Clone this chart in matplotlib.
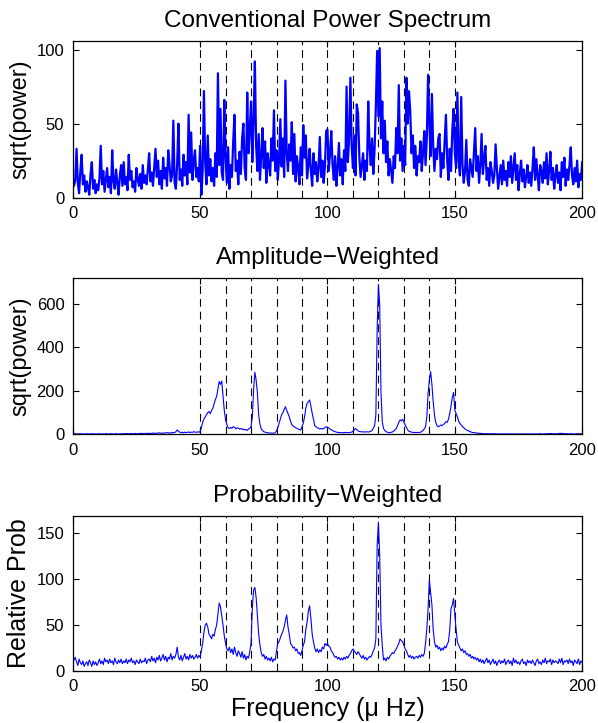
import numpy as np
import matplotlib
matplotlib.use("Agg")
import matplotlib.pyplot as plt

plt.rcParams['font.family'] = ['Liberation Sans', 'DejaVu Sans']

# frequency grid, 0.5 uHz steps
freq = np.arange(0, 200.5, 0.5)

# sqrt(power) of the conventional spectrum
conventional = [
    14, 8, 12, 33, 10, 3, 18, 29, 9, 15, 4, 11, 7, 2, 16, 24, 6, 12, 3, 9,
    5, 13, 35, 9, 18, 4, 12, 20, 7, 14, 3, 32, 11, 6, 19, 10, 2, 15, 22, 8,
    24, 9, 14, 5, 29, 12, 18, 7, 11, 4, 20, 13, 8, 16, 6, 22, 10, 15, 9, 19,
    30, 11, 17, 8, 21, 33, 14, 25, 9, 18, 6, 27, 13, 20, 8, 32, 22, 11, 15, 52,
    10, 6, 23, 50, 12, 19, 8, 29, 15, 24, 9, 56, 17, 44, 12, 25, 32, 14, 20, 11,
    35, 2, 18, 72, 24, 9, 42, 15, 26, 11, 20, 8, 30, 14, 84, 22, 60, 17, 12, 66,
    28, 10, 34, 6, 22, 14, 38, 56, 18, 25, 9, 31, 16, 40, 50, 20, 12, 71, 30, 45,
    65, 24, 52, 92, 35, 18, 43, 12, 28, 47, 20, 38, 10, 30, 22, 15, 40, 25, 59, 18,
    32, 12, 26, 53, 21, 40, 14, 79, 30, 18, 36, 25, 51, 16, 43, 11, 28, 20, 9, 34,
    15, 49, 27, 42, 13, 22, 33, 18, 8, 30, 16, 24, 11, 20, 41, 14, 25, 10, 21, 45,
    46, 18, 30, 45, 22, 12, 28, 8, 20, 37, 15, 26, 9, 32, 18, 75, 24, 40, 81, 35,
    20, 42, 15, 63, 57, 28, 14, 22, 30, 12, 25, 18, 65, 35, 22, 40, 16, 33, 62, 99,
    55, 101, 40, 65, 30, 52, 24, 38, 15, 26, 18, 10, 28, 20, 47, 30, 76, 25, 40, 18,
    35, 22, 81, 50, 72, 58, 30, 42, 20, 35, 15, 28, 24, 38, 18, 30, 45, 22, 40, 83,
    50, 28, 70, 35, 18, 33, 26, 40, 43, 14, 30, 20, 38, 56, 25, 12, 33, 18, 45, 60,
    30, 20, 71, 25, 15, 68, 22, 10, 18, 39, 12, 8, 26, 20, 14, 30, 47, 18, 28, 10,
    22, 43, 16, 26, 35, 12, 20, 8, 24, 18, 10, 15, 36, 20, 6, 14, 22, 9, 25, 12,
    18, 8, 24, 14, 28, 10, 20, 30, 12, 22, 5, 16, 25, 11, 19, 7, 14, 22, 10, 17,
    8, 20, 34, 12, 26, 15, 5, 22, 18, 10, 24, 13, 30, 9, 18, 31, 12, 20, 6, 15,
    22, 10, 17, 5, 24, 14, 27, 8, 19, 12, 22, 34, 15, 9, 20, 11, 25, 7, 16, 12,
    24,
]

# amplitude-weighted spectrum
amplitude = [
    2, 1, 3, 2, 1, 2, 3, 1, 2, 2, 1, 3, 2, 1, 2, 2, 3, 1, 2, 1,
    2, 3, 1, 2, 2, 1, 3, 2, 1, 2, 3, 2, 1, 2, 3, 2, 1, 3, 2, 2,
    3, 2, 4, 3, 2, 3, 4, 2, 3, 4, 3, 2, 4, 3, 5, 3, 4, 3, 5, 4,
    4, 5, 3, 6, 5, 4, 6, 5, 7, 5, 6, 4, 7, 6, 8, 6, 7, 5, 9, 7,
    8, 12, 20, 14, 10, 8, 9, 7, 10, 8, 9, 11, 8, 10, 9, 12, 10, 9, 11, 10,
    12, 30, 55, 70, 80, 90, 100, 105, 95, 110, 120, 140, 160, 175, 210, 243, 230, 245, 180, 110,
    66, 45, 30, 27, 32, 28, 35, 33, 25, 30, 28, 24, 27, 22, 25, 20, 22, 18, 24, 28,
    35, 80, 204, 286, 250, 189, 90, 45, 25, 18, 12, 10, 8, 7, 6, 5, 6, 5, 5, 8,
    15, 30, 50, 70, 90, 100, 115, 127, 110, 95, 81, 60, 45, 38, 35, 30, 28, 24, 22, 20,
    35, 50, 80, 120, 143, 150, 158, 130, 97, 70, 40, 35, 30, 28, 25, 27, 24, 27, 30, 35,
    32, 30, 25, 20, 18, 14, 12, 10, 9, 8, 8, 7, 8, 7, 9, 8, 7, 8, 9, 10,
    14, 20, 27, 22, 16, 13, 12, 11, 12, 10, 11, 12, 10, 12, 14, 18, 28, 40, 89, 480,
    690, 600, 200, 60, 27, 18, 12, 10, 8, 8, 9, 11, 14, 20, 27, 40, 55, 66, 62, 69,
    55, 43, 30, 20, 14, 12, 10, 9, 8, 9, 8, 9, 8, 10, 12, 18, 25, 35, 80, 189,
    250, 289, 230, 150, 90, 55, 40, 35, 38, 43, 40, 45, 50, 58, 55, 70, 97, 130, 170, 193,
    112, 95, 81, 60, 50, 43, 35, 30, 25, 20, 18, 15, 12, 10, 8, 8, 7, 6, 5, 5,
    4, 4, 3, 3, 2, 3, 2, 2, 3, 2, 2, 3, 2, 2, 1, 2, 2, 1, 2, 2,
    2, 1, 2, 2, 1, 2, 1, 2, 2, 1, 2, 1, 2, 1, 2, 2, 1, 2, 1, 2,
    1, 2, 2, 1, 2, 1, 2, 3, 2, 1, 2, 2, 3, 2, 3, 4, 3, 2, 3, 2,
    2, 3, 4, 5, 3, 4, 3, 2, 3, 2, 2, 3, 2, 2, 1, 2, 3, 2, 2, 3,
    2,
]

# probability-weighted spectrum
probability = [
    8, 12, 15, 10, 6, 13, 9, 7, 11, 5, 8, 10, 6, 12, 9, 5, 11, 7, 10, 6,
    9, 13, 8, 11, 7, 14, 10, 12, 8, 13, 9, 11, 7, 14, 10, 8, 12, 9, 13, 8,
    11, 9, 13, 8, 12, 10, 14, 9, 11, 7, 12, 10, 8, 13, 9, 11, 10, 14, 8, 12,
    13, 10, 16, 11, 14, 9, 15, 12, 17, 11, 14, 18, 12, 16, 10, 15, 13, 19, 12, 16,
    14, 18, 26, 15, 12, 17, 11, 15, 19, 13, 16, 12, 18, 14, 17, 13, 15, 18, 14, 17,
    15, 22, 30, 42, 50, 52, 48, 40, 38, 35, 40, 38, 45, 50, 62, 74, 70, 60, 50, 38,
    30, 24, 22, 26, 20, 24, 18, 26, 20, 16, 22, 19, 15, 21, 14, 18, 12, 16, 14, 21,
    30, 68, 88, 91, 80, 60, 40, 28, 20, 16, 18, 13, 16, 12, 14, 11, 15, 10, 13, 12,
    22, 30, 32, 36, 40, 43, 48, 55, 61, 48, 40, 30, 28, 25, 26, 22, 24, 19, 20, 17,
    22, 28, 32, 45, 53, 65, 71, 57, 40, 32, 25, 21, 24, 20, 23, 21, 26, 24, 30, 28,
    30, 27, 26, 22, 20, 17, 15, 16, 13, 15, 12, 14, 12, 15, 13, 16, 14, 17, 19, 22,
    24, 22, 20, 18, 21, 19, 16, 14, 17, 13, 15, 12, 14, 16, 15, 18, 22, 25, 35, 137,
    162, 126, 50, 28, 12, 14, 11, 15, 13, 16, 18, 20, 19, 22, 24, 27, 30, 35, 33, 32,
    28, 24, 22, 18, 15, 17, 14, 16, 13, 15, 16, 14, 17, 15, 18, 16, 19, 30, 46, 68,
    99, 85, 72, 45, 32, 26, 28, 24, 26, 22, 25, 23, 27, 25, 29, 32, 45, 68, 72, 79,
    61, 45, 32, 28, 25, 22, 24, 20, 22, 18, 19, 16, 18, 14, 16, 13, 15, 12, 14, 10,
    13, 9, 12, 8, 11, 14, 9, 12, 7, 10, 13, 8, 11, 6, 10, 12, 8, 11, 9, 13,
    7, 10, 12, 8, 11, 6, 14, 9, 12, 8, 10, 7, 11, 13, 8, 10, 6, 12, 9, 11,
    8, 12, 9, 6, 11, 13, 8, 10, 7, 12, 9, 14, 8, 11, 10, 13, 7, 12, 9, 11,
    10, 8, 13, 9, 14, 7, 11, 10, 12, 8, 13, 9, 11, 6, 12, 10, 8, 13, 7, 11,
    9,
]

# expected mode frequencies (dashed markers)
modes = [50, 60, 70, 80, 90, 100, 110, 120, 130, 140, 150]

panels = [
    ("Conventional Power Spectrum", conventional, "sqrt(power)", 17, 106, [0, 50, 100], 1.6),
    ("Amplitude\u2212Weighted", amplitude, "sqrt(power)", 17, 720, [0, 200, 400, 600], 0.8),
    ("Probability\u2212Weighted", probability, "Relative Prob", 18, 169, [0, 50, 100, 150], 0.8),
]
positions = [
    [0.1216, 0.7266, 0.852, 0.2171],
    [0.1216, 0.3993, 0.852, 0.2162],
    [0.1216, 0.0719, 0.852, 0.2148],
]

fig = plt.figure(figsize=(5.98, 7.23), dpi=100)

for (title, values, ylab, ysize, ymax, yticks, lw), pos in zip(panels, positions):
    ax = fig.add_axes(pos)
    for m in modes:
        ax.axvline(m, color="black", lw=0.8, dashes=(7, 4.5), zorder=1)
    ax.plot(freq, values, color="#0000FF", lw=lw, zorder=2)
    ax.set_xlim(0, 200)
    ax.set_ylim(0, ymax)
    ax.set_xticks([0, 50, 100, 150, 200])
    ax.set_yticks(yticks)
    ax.tick_params(direction="in", length=4, width=0.8, top=True, right=True,
                   labelsize=12, pad=6)
    for s in ax.spines.values():
        s.set_linewidth(0.9)
    ax.set_title(title, fontsize=17.5, pad=10)
    ax.set_ylabel(ylab, fontsize=ysize, labelpad=4)

ax.set_xlabel("Frequency (\u03bc Hz)", fontsize=18, labelpad=2)

fig.savefig("out.png", dpi=100)
